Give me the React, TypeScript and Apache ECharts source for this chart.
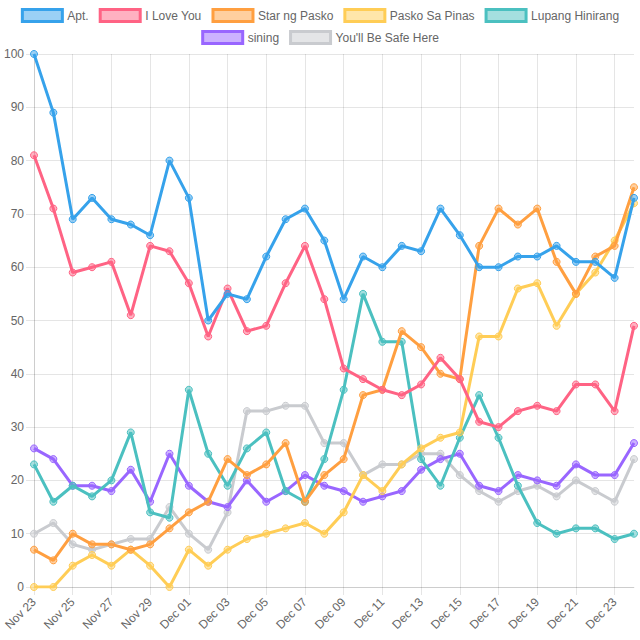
import React, { useEffect, useRef } from "react";
import * as echarts from "echarts";

const categories = [
  "Nov 23", "Nov 24", "Nov 25", "Nov 26", "Nov 27", "Nov 28", "Nov 29", "Nov 30",
  "Dec 01", "Dec 02", "Dec 03", "Dec 04", "Dec 05", "Dec 06", "Dec 07", "Dec 08",
  "Dec 09", "Dec 10", "Dec 11", "Dec 12", "Dec 13", "Dec 14", "Dec 15", "Dec 16",
  "Dec 17", "Dec 18", "Dec 19", "Dec 20", "Dec 21", "Dec 22", "Dec 23", "Dec 24",
];

const apt = [100, 89, 69, 73, 69, 68, 66, 80, 73, 50, 55, 54, 62, 69, 71, 65, 54, 62, 60, 64, 63, 71, 66, 60, 60, 62, 62, 64, 61, 61, 58, 73];
const iLoveYou = [81, 71, 59, 60, 61, 51, 64, 63, 57, 47, 56, 48, 49, 57, 64, 54, 41, 39, 37, 36, 38, 43, 39, 31, 30, 33, 34, 33, 38, 38, 33, 49];
const starNgPasko = [7, 5, 10, 8, 8, 7, 8, 11, 14, 16, 24, 21, 23, 27, 16, 21, 24, 36, 37, 48, 45, 40, 39, 64, 71, 68, 71, 61, 55, 62, 64, 75];
const paskoSaPinas = [0, 0, 4, 6, 4, 7, 4, 0, 7, 4, 7, 9, 10, 11, 12, 10, 14, 21, 18, 23, 26, 28, 29, 47, 47, 56, 57, 49, 55, 59, 65, 72];
const lupangHinirang = [23, 16, 19, 17, 20, 29, 14, 13, 37, 25, 19, 26, 29, 18, 16, 24, 37, 55, 46, 46, 24, 19, 28, 36, 28, 19, 12, 10, 11, 11, 9, 10];
const sining = [26, 24, 19, 19, 18, 22, 16, 25, 19, 16, 15, 20, 16, 18, 21, 19, 18, 16, 17, 18, 22, 24, 25, 19, 18, 21, 20, 19, 23, 21, 21, 27];
const safeHere = [10, 12, 8, 7, 8, 9, 9, 15, 10, 7, 14, 33, 33, 34, 34, 27, 27, 21, 23, 23, 25, 25, 21, 18, 16, 18, 19, 17, 20, 18, 16, 24];

const seriesNames = ["Apt.", "I Love You", "Star ng Pasko", "Pasko Sa Pinas", "Lupang Hinirang", "sining", "You'll Be Safe Here"];
const seriesData = [apt, iLoveYou, starNgPasko, paskoSaPinas, lupangHinirang, sining, safeHere];
const colors = [
  [54, 162, 235],
  [255, 99, 132],
  [255, 159, 64],
  [255, 205, 86],
  [75, 192, 192],
  [153, 102, 255],
  [201, 203, 207],
];

const FONT = "'Liberation Sans', Arial, Helvetica, sans-serif";
const GRID = "rgba(0,0,0,0.1)";

export default function App() {
  const ref = useRef<HTMLDivElement>(null);
  useEffect(() => {
    if (!ref.current) return;
    const chart = echarts.init(ref.current, undefined, { renderer: "svg" });
    const solid = (c: number[]) => `rgb(${c[0]},${c[1]},${c[2]})`;
    const light = (c: number[]) => `rgba(${c[0]},${c[1]},${c[2]},0.5)`;
    const legendItem = (i: number) => ({
      name: seriesNames[i],
      itemStyle: { color: light(colors[i]), borderColor: solid(colors[i]), borderWidth: 3 },
    });
    const legendBase = {
      icon: "rect",
      itemWidth: 40,
      itemHeight: 12,
      itemGap: 10,
      padding: 0,
      left: "center",
      textStyle: { color: "#666", fontSize: 12, fontFamily: FONT, padding: [0, 0, 0, 0] },
    };
    chart.setOption({
      animation: false,
      backgroundColor: "#fff",
      textStyle: { fontFamily: FONT },
      legend: [
        { ...legendBase, top: 8, data: [0, 1, 2, 3, 4].map(legendItem) },
        { ...legendBase, top: 30, data: [5, 6].map(legendItem) },
      ],
      grid: { left: 34, right: 6, top: 54, bottom: 53, containLabel: false },
      xAxis: {
        type: "category",
        data: categories,
        boundaryGap: false,
        axisLine: { show: true, lineStyle: { color: GRID, width: 1 } },
        axisTick: { show: true, interval: 1, length: 8, lineStyle: { color: GRID } },
        splitLine: { show: true, interval: 1, lineStyle: { color: GRID, width: 1 } },
        axisLabel: {
          interval: 1,
          rotate: 45,
          margin: 13,
          color: "#666",
          fontSize: 12,
          fontFamily: FONT,
        },
      },
      yAxis: {
        type: "value",
        min: 0,
        max: 100,
        interval: 10,
        axisLine: { show: true, lineStyle: { color: GRID, width: 1 } },
        axisTick: { show: true, length: 8, lineStyle: { color: GRID } },
        splitLine: { show: true, lineStyle: { color: GRID, width: 1 } },
        axisLabel: { margin: 10, color: "#666", fontSize: 12, fontFamily: FONT },
      },
      series: seriesData.map((d, i) => ({
        name: seriesNames[i],
        type: "line",
        data: d,
        z: 10 - i,
        symbol: "circle",
        symbolSize: 7,
        showSymbol: true,
        lineStyle: { color: solid(colors[i]), width: 3 },
        itemStyle: { color: light(colors[i]), borderColor: solid(colors[i]), borderWidth: 1 },
        emphasis: { disabled: true },
      })),
    });
    return () => chart.dispose();
  }, []);
  return (
    <div
      ref={ref}
      style={{ position: "fixed", left: 0, top: 0, width: 640, height: 640 }}
    />
  );
}
